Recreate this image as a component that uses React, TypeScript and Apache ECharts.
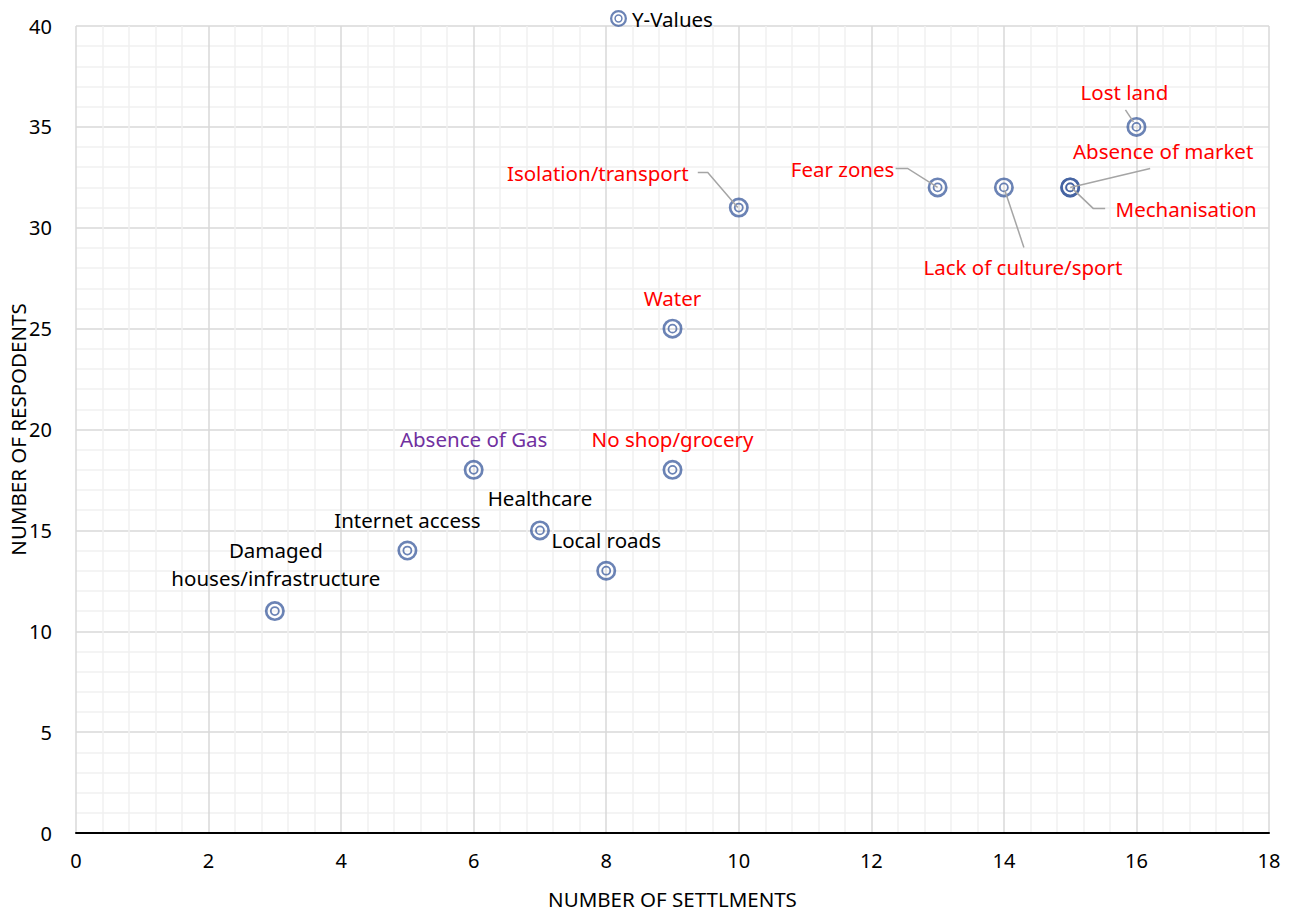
import React, { useEffect, useRef } from "react";
import * as echarts from "echarts";

const labels: string[] = [
  "Damaged\nhouses/infrastructure",
  "Internet access",
  "Absence of Gas",
  "Healthcare",
  "Local roads",
  "No shop/grocery",
  "Water",
  "Isolation/transport",
  "Fear zones",
  "Lack of culture/sport",
  "Absence of market",
  "Mechanisation",
  "Lost land",
];
const settlements: number[] = [3, 5, 6, 7, 8, 9, 9, 10, 13, 14, 15, 15, 16];
const respondents: number[] = [11, 14, 18, 15, 13, 18, 25, 31, 32, 32, 32, 32, 35];
const labelColors: string[] = [
  "#000000", "#000000", "#7030A0", "#000000", "#000000",
  "#FF0000", "#FF0000", "#FF0000", "#FF0000", "#FF0000", "#FF0000", "#FF0000", "#FF0000",
];

const xTicks = { min: 0, max: 18, interval: 2 };
const yTicks = { min: 0, max: 40, interval: 5 };

// layout: label offsets (pixels) from point centre to label centre
const LABEL_DX = [1, 0, 0, 0, 0, 0, 0, -141, -95, 19, 93, 116, -12];
const LABEL_DY = [-47, -31, -31, -32, -31, -31, -31, -35, -18, 80, -36, 22, -35];
// layout: leader line polylines, pixel offsets from point centre
const LEADERS: Record<number, number[][]> = {
  7: [[-41, -35], [-31, -35], [-1, 0]],
  8: [[-42, -19], [-30, -19], [0, 0]],
  9: [[1, 3], [20, 60]],
  10: [[0, 0], [80, -19]],
  11: [[2, 1], [23, 21], [35, 21]],
  12: [[-11, -17], [-3, -5]],
};

const FONT = "'Noto Sans', sans-serif";
const ringPath =
  "path://M1,10A9,9 0 1,0 19,10A9,9 0 1,0 1,10Z" +
  "M3.4,10A6.6,6.6 0 1,1 16.6,10A6.6,6.6 0 1,1 3.4,10Z" +
  "M5.6,10A4.4,4.4 0 1,0 14.4,10A4.4,4.4 0 1,0 5.6,10Z" +
  "M7.2,10A2.8,2.8 0 1,1 12.8,10A2.8,2.8 0 1,1 7.2,10Z";

export default function App() {
  const ref = useRef<HTMLDivElement>(null);
  useEffect(() => {
    if (!ref.current) return;
    const chart = echarts.init(ref.current, undefined, { renderer: "svg" });
    const data = settlements.map((x, i) => ({
      value: [x, respondents[i]],
      name: labels[i],
      label: {
        show: true,
        formatter: labels[i],
        color: labelColors[i],
      },
    }));
    chart.setOption({
      animation: false,
      backgroundColor: "#ffffff",
      legend: {
        show: true,
        top: 3,
        left: 605,
        padding: 5,
        itemWidth: 17,
        itemHeight: 17,
        itemGap: 4,
        textStyle: { fontFamily: FONT, fontSize: 20.5, color: "#000" },
        data: ["Y-Values"],
      },
      grid: {
        left: 76,
        right: 25,
        top: 26,
        bottom: 80,
        containLabel: false,
        outerBoundsMode: "none",
      },
      xAxis: {
        type: "value",
        min: xTicks.min,
        max: xTicks.max,
        interval: xTicks.interval,
        name: "NUMBER OF SETTLMENTS",
        nameLocation: "middle",
        nameGap: 55,
        nameMoveOverlap: false,
        nameTextStyle: { fontFamily: FONT, fontSize: 20.5, lineHeight: 22, color: "#000" },
        axisLine: { show: true, onZero: false, lineStyle: { color: "#000", width: 2 } },
        axisTick: { show: false },
        axisLabel: { fontFamily: FONT, fontSize: 20, color: "#000", margin: 17 },
        splitLine: { show: true, lineStyle: { color: "#D9D9D9", width: 1.5 } },
        minorTick: { show: false, splitNumber: 5 },
        minorSplitLine: { show: true, lineStyle: { color: "#F0F0F0", width: 1.5 } },
      },
      yAxis: {
        type: "value",
        min: yTicks.min,
        max: yTicks.max,
        interval: yTicks.interval,
        name: "NUMBER OF RESPODENTS",
        nameLocation: "middle",
        nameGap: 47,
        nameMoveOverlap: false,
        nameTextStyle: { fontFamily: FONT, fontSize: 20.5, lineHeight: 22, color: "#000" },
        axisLine: { show: false },
        axisTick: { show: false },
        axisLabel: { fontFamily: FONT, fontSize: 20, color: "#000", margin: 24 },
        splitLine: { show: true, lineStyle: { color: "#D9D9D9", width: 1.5 } },
        minorTick: { show: false, splitNumber: 5 },
        minorSplitLine: { show: true, lineStyle: { color: "#F0F0F0", width: 1.5 } },
      },
      series: [
        {
          name: "Y-Values",
          type: "scatter",
          symbol: ringPath,
          symbolSize: 20,
          itemStyle: { color: "rgba(58,90,156,0.75)", opacity: 1 },
          label: {
            show: true,
            position: "inside",
            fontFamily: FONT,
            fontSize: 20.5,
            lineHeight: 28,
            align: "center",
            opacity: 1,
            textBorderWidth: 0,
            textBorderColor: "transparent",
            textShadowBlur: 0,
          },
          labelLayout: (p: any) => ({
            dx: LABEL_DX[p.dataIndex],
            dy: LABEL_DY[p.dataIndex],
          }),
          emphasis: { disabled: true },
          data,
        },
      ],
    });

    const graphics: any[] = [];
    Object.keys(LEADERS).forEach((k) => {
      const i = Number(k);
      const c = chart.convertToPixel({ seriesIndex: 0 }, [settlements[i], respondents[i]]) as number[];
      graphics.push({
        type: "polyline",
        z: 10,
        silent: true,
        shape: { points: LEADERS[i].map(([dx, dy]) => [c[0] + dx, c[1] + dy]) },
        style: { stroke: "#A5A5A5", lineWidth: 1.5, fill: null },
      });
    });
    chart.setOption({ graphic: graphics });

    return () => chart.dispose();
  }, []);
  return (
    <div
      ref={ref}
      style={{ position: "fixed", left: 0, top: 0, width: 1294, height: 913 }}
    />
  );
}
